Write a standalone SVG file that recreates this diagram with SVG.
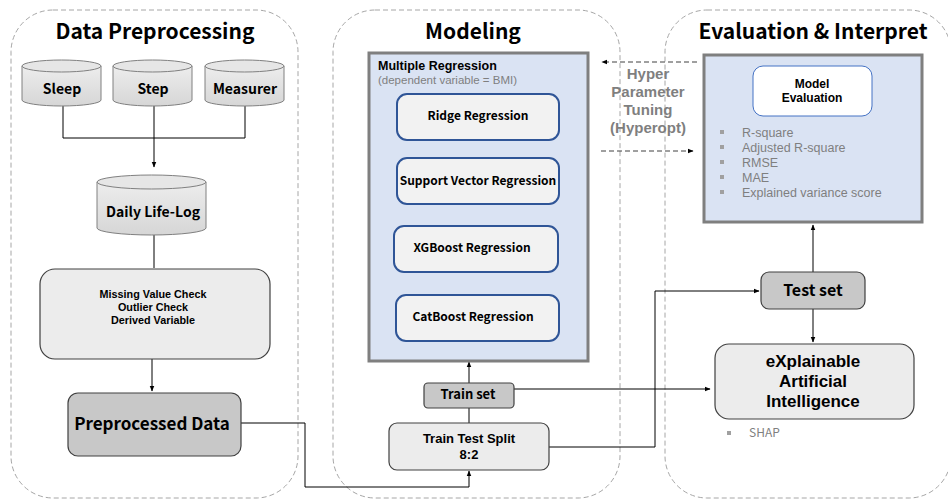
<svg xmlns="http://www.w3.org/2000/svg" width="948" height="500" viewBox="0 0 948 500">
<defs>
<marker id="ah" viewBox="0 0 10 10" refX="9" refY="5" markerWidth="6" markerHeight="6" orient="auto"><path d="M0,1 L10,5 L0,9 z" fill="#000"/></marker>
<linearGradient id="cyl" x1="0" y1="0" x2="0" y2="1"><stop offset="0" stop-color="#ededed"/><stop offset="1" stop-color="#d6d6d6"/></linearGradient>
</defs>
<style>
text{font-family:"Noto Sans CJK KR","Noto Sans",sans-serif;font-weight:bold;fill:#000;text-anchor:middle}
.ml{font-family:"Liberation Sans",Arial,sans-serif}
.panel{fill:#fff;stroke:#a6a6a6;stroke-width:1;stroke-dasharray:5 3}
.h{font-size:21px}
.cyl{fill:url(#cyl);stroke:#808080;stroke-width:1}
.cyltop{fill:#e6e6e6;stroke:#808080;stroke-width:1}
.box{fill:#ececec;stroke:#404040;stroke-width:1.2}
.dark{fill:#c8c8c8;stroke:#404040;stroke-width:1.2}
.blue{fill:#dae3f3;stroke:#7f7f7f;stroke-width:3}
.reg{fill:#f2f2f2;stroke:#2f5597;stroke-width:2}
.ln{fill:none;stroke:#000;stroke-width:1}
.dash{fill:none;stroke:#404040;stroke-width:1;stroke-dasharray:5 3}
.gray{fill:#7f7f7f;font-weight:normal;text-anchor:start}
</style>
<g id="panels">
<rect class="panel" x="11" y="10" width="287" height="488" rx="42"/>
<rect class="panel" x="333" y="10" width="287" height="488" rx="42"/>
<rect class="panel" x="665" y="10" width="286" height="488" rx="42"/>
<text class="h" x="155" y="39">Data Preprocessing</text>
<text class="h" x="473" y="39">Modeling</text>
<text class="h" x="813" y="39">Evaluation &amp; Interpret</text>
</g>
<g id="connectors">
<path class="ln" d="M63,106 V138 H245 V106"/>
<path class="ln" d="M154,106 V167" marker-end="url(#ah)"/>
<path class="ln" d="M154,235 V268"/>
<path class="ln" d="M152,359 V391" marker-end="url(#ah)"/>
<path class="ln" d="M241,423 H305 V487 H469 V471" marker-end="url(#ah)"/>
<path class="ln" d="M469,383 V362" marker-end="url(#ah)"/>
<path class="ln" d="M469,408 V423"/>
<path class="ln" d="M514,389 H710" marker-end="url(#ah)"/>
<path class="ln" d="M549,447 H655 V291 H759" marker-end="url(#ah)"/>
<path class="ln" d="M813,272 V225" marker-end="url(#ah)"/>
<path class="ln" d="M813,309 V342" marker-end="url(#ah)"/>
<path class="dash" d="M697,62 H602" marker-end="url(#ah)"/>
<path class="dash" d="M601,151 H693" marker-end="url(#ah)"/>
</g>
<g id="sleep">
<path class="cyl" d="M22,66 V100 A39.5,6 0 0 0 101,100 V66"/>
<ellipse class="cyltop" cx="61.5" cy="66" rx="39.5" ry="6"/>
<text x="62" y="94" font-size="14">Sleep</text>
</g>
<g id="step">
<path class="cyl" d="M113,66 V100 A39.5,6 0 0 0 192,100 V66"/>
<ellipse class="cyltop" cx="152.5" cy="66" rx="39.5" ry="6"/>
<text x="153" y="94" font-size="14">Step</text>
</g>
<g id="measurer">
<path class="cyl" d="M205,66 V100 A39.5,6 0 0 0 284,100 V66"/>
<ellipse class="cyltop" cx="244.5" cy="66" rx="39.5" ry="6"/>
<text x="245" y="94" font-size="14">Measurer</text>
</g>
<g id="dailylog">
<path class="cyl" d="M97,182 V228 A54.5,7 0 0 0 206,228 V182"/>
<ellipse class="cyltop" cx="151.5" cy="182" rx="54.5" ry="7"/>
<text x="153" y="217" font-size="14">Daily Life-Log</text>
</g>
<g id="checks">
<rect class="box" x="40" y="269" width="230" height="90" rx="15"/>
<text class="ml" x="153" y="298" font-size="10.8"><tspan x="153">Missing Value Check</tspan><tspan x="153" dy="13">Outlier Check</tspan><tspan x="153" dy="13">Derived Variable</tspan></text>
</g>
<g id="preprocessed">
<rect class="dark" x="68" y="393" width="173" height="63" rx="10"/>
<text x="152" y="430" font-size="17">Preprocessed Data</text>
</g>
<g id="multireg">
<rect class="blue" x="369" y="53" width="219" height="308"/>
<text class="ml" x="378" y="70" font-size="12.5" style="text-anchor:start"><tspan x="378">Multiple Regression</tspan><tspan x="378" dy="14" style="fill:#7f7f7f;font-weight:normal;font-size:11.5px">(dependent variable = BMI)</tspan></text>
</g>
<g id="ridge">
<rect class="reg" x="397" y="94" width="162" height="46" rx="10"/>
<text x="478" y="120" font-size="12">Ridge Regression</text>
</g>
<g id="svr">
<rect class="reg" x="397" y="158" width="162" height="46" rx="10"/>
<text x="478" y="185" font-size="12">Support Vector Regression</text>
</g>
<g id="xgb">
<rect class="reg" x="394" y="226" width="164" height="46" rx="10"/>
<text x="472" y="252" font-size="12">XGBoost Regression</text>
</g>
<g id="catboost">
<rect class="reg" x="396" y="295" width="163" height="46" rx="10"/>
<text x="473" y="321" font-size="12">CatBoost Regression</text>
</g>
<g id="trainset">
<rect class="dark" x="424" y="383" width="90" height="25" rx="4"/>
<text x="468" y="399" font-size="13">Train set</text>
</g>
<g id="split">
<rect class="box" x="389" y="423" width="160" height="47" rx="8"/>
<text class="ml" x="469" y="443" font-size="13"><tspan x="469">Train Test Split</tspan><tspan x="469" dy="16">8:2</tspan></text>
</g>
<g id="hyper">
<text class="ml" x="648" y="79" font-size="15" style="fill:#7f7f7f"><tspan x="648">Hyper</tspan><tspan x="648" dy="18">Parameter</tspan><tspan x="648" dy="18">Tuning</tspan><tspan x="648" dy="18">(Hyperopt)</tspan></text>
</g>
<g id="evaluation">
<rect class="blue" x="704" y="55" width="218" height="167"/>
<rect x="753" y="66" width="119" height="50" rx="10" fill="#fff" stroke="#4472c4" stroke-width="1"/>
<text class="ml" x="812" y="88" font-size="12"><tspan x="812">Model</tspan><tspan x="812" dy="14">Evaluation</tspan></text>
<g fill="#a0a0a0"><rect x="720" y="130" width="4" height="4"/><rect x="720" y="145" width="4" height="4"/><rect x="720" y="160" width="4" height="4"/><rect x="720" y="175" width="4" height="4"/><rect x="720" y="190" width="4" height="4"/></g>
<text class="gray ml" x="742" y="137" font-size="12.5"><tspan x="742">R-square</tspan><tspan x="742" dy="15">Adjusted R-square</tspan><tspan x="742" dy="15">RMSE</tspan><tspan x="742" dy="15">MAE</tspan><tspan x="742" dy="15">Explained variance score</tspan></text>
</g>
<g id="testset">
<rect class="dark" x="761" y="272" width="104" height="37" rx="8"/>
<text x="813" y="296" font-size="16">Test set</text>
</g>
<g id="xai">
<rect class="box" x="715" y="344" width="199" height="75" rx="14"/>
<text class="ml" x="813" y="367" font-size="17"><tspan x="813">eXplainable</tspan><tspan x="813" dy="20">Artificial</tspan><tspan x="813" dy="20">Intelligence</tspan></text>
<rect x="727" y="431" width="4" height="4" fill="#a0a0a0"/>
<text class="gray" x="749" y="437" font-size="12">SHAP</text>
</g>
</svg>
